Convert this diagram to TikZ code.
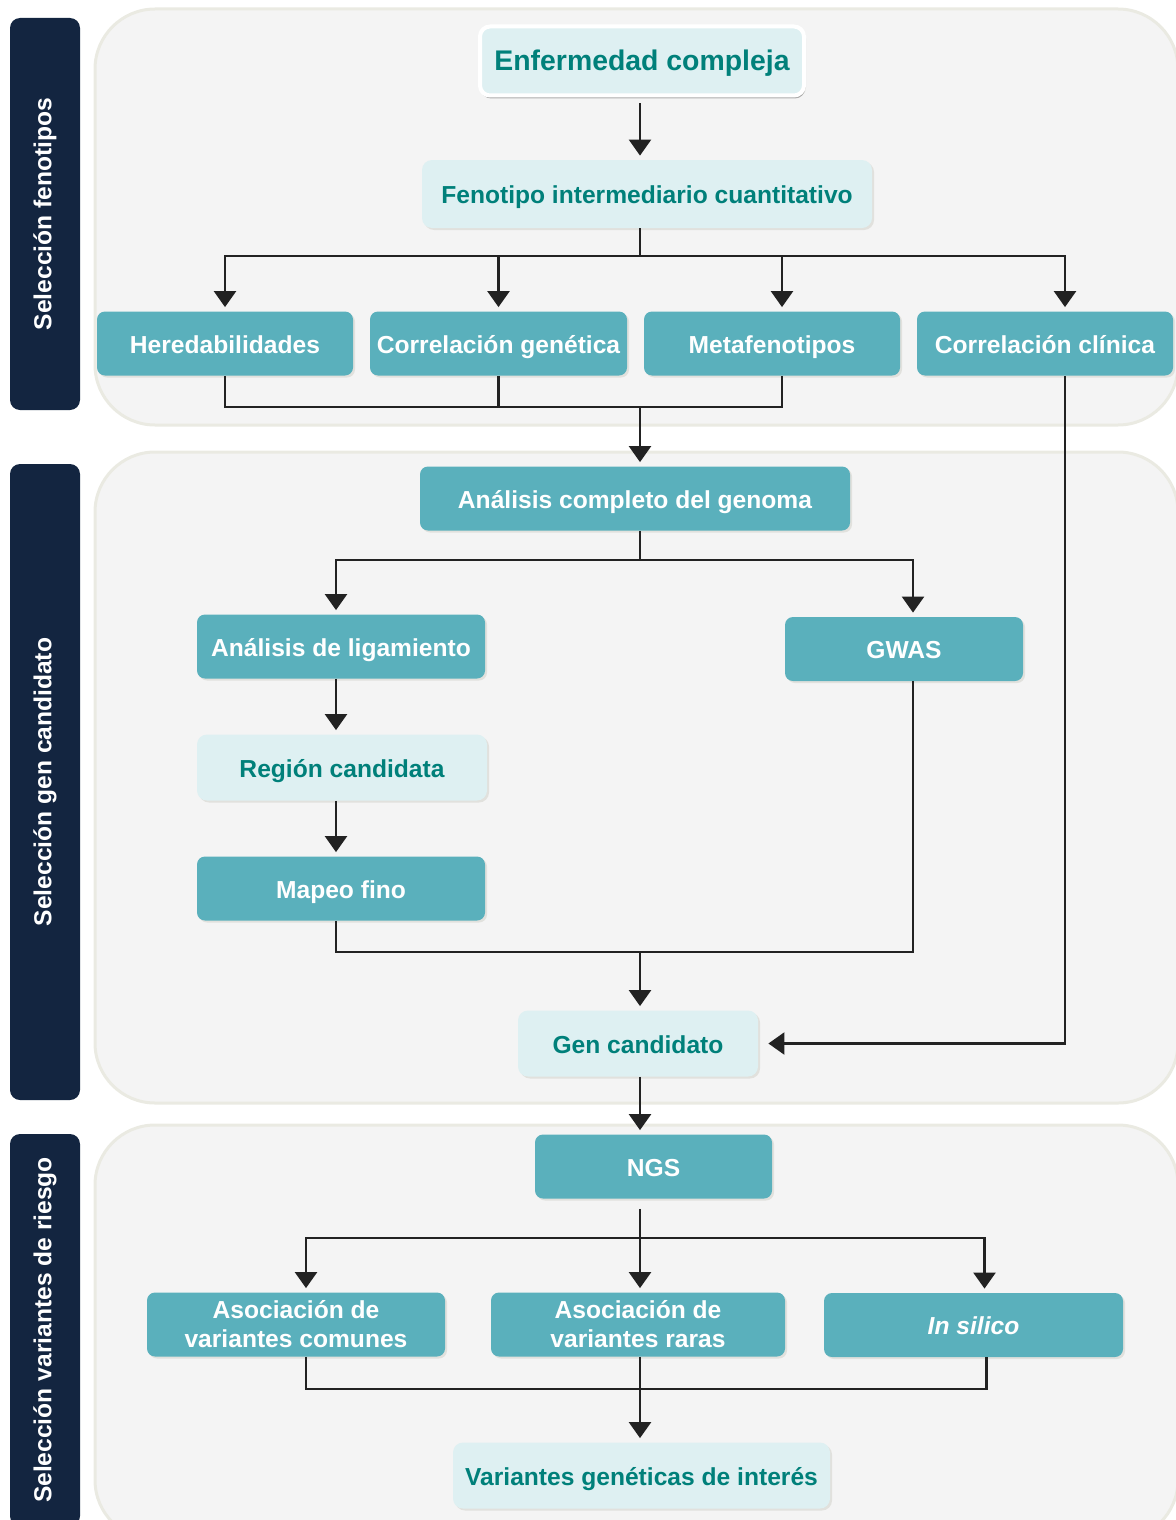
\documentclass[tikz,border=0pt]{standalone}
\usepackage{fontspec}
\setmainfont{Liberation Sans}
\usepackage{tikz}
\usetikzlibrary{positioning,arrows.meta,shadows}

\definecolor{navy}{RGB}{19,37,64}
\definecolor{boxteal}{RGB}{90,176,188}
\definecolor{boxlight}{RGB}{222,240,242}
\definecolor{textteal}{RGB}{0,128,122}
\definecolor{panelgray}{RGB}{244,244,244}
\definecolor{panelline}{RGB}{234,234,226}
\definecolor{arrowgray}{RGB}{34,34,34}

\begin{document}
\begin{tikzpicture}[x=0.5pt, y=-0.5pt,
        panel/.style={fill=panelgray, draw=panelline, line width=1.5pt, rounded corners=30pt},
        sidebar/.style={fill=navy, rounded corners=5pt, text=white, rotate=90, minimum height=35pt, inner sep=0pt,
            font=\bfseries\fontsize{12.3}{14}\selectfont},
        tealnode/.style={fill=boxteal, rounded corners=4pt, text=white, align=center, inner sep=1pt, minimum height=32pt,
            text height=11.5pt, text depth=2pt,
            font=\bfseries\fontsize{12.3}{14.5}\selectfont,
            drop shadow={shadow xshift=1pt, shadow yshift=-1pt, fill=panelline!80!gray, opacity=0.6}},
        lightnode/.style={fill=boxlight, rounded corners=5pt, text=textteal, align=center, inner sep=1pt, minimum height=33pt,
            text height=11.5pt, text depth=2pt,
            font=\bfseries\fontsize{12.3}{14.5}\selectfont,
            drop shadow={shadow xshift=1pt, shadow yshift=-1pt, fill=panelline!80!gray, opacity=0.6}},
        link/.style={draw=arrowgray, line width=1.2pt},
        arr/.style={link, -{Triangle[width=11pt,length=8pt]}, shorten >=2pt}
    ]
        \useasboundingbox (0,0) rectangle (1176,1520);

        % Background panels
        \draw[panel] (95,9) rectangle (1178,425);
        \draw[panel] (95,452) rectangle (1178,1103);
        \draw[panel] (95,1125) rectangle (1178,1540);

        % Side labels
        \node[sidebar, minimum width=196pt] (bar1) at (45,214) {Selección fenotipos};
        \node[sidebar, minimum width=318pt] (bar2) at (45,782) {Selección gen candidato};
        \node[sidebar, minimum width=196pt] (bar3) at (45,1330) {Selección variantes de riesgo};

        % Phenotypes
        \node[lightnode, draw=white, line width=2pt, minimum width=162pt, minimum height=34.5pt,
            text height=12pt, text depth=2pt, font=\bfseries\fontsize{14.2}{16}\selectfont,
            drop shadow={shadow xshift=0.5pt, shadow yshift=-1.5pt, fill=gray, opacity=0.6}] (enf) at (642,61) {Enfermedad compleja};
        \node[lightnode, minimum width=225pt, minimum height=34pt] (feno) at (647,194) {Fenotipo intermediario cuantitativo};
        \node[tealnode, minimum width=128pt] (hered) at (225,343.5) {Heredabilidades};
        \node[tealnode, minimum width=128.5pt] (corgen) at (498.5,343.5) {Correlación genética};
        \node[tealnode, minimum width=128pt] (meta) at (772,343.5) {Metafenotipos};
        \node[tealnode, minimum width=128pt] (corclin) at (1045,343.5) {Correlación clínica};

        % Candidate gene
        \node[tealnode, minimum width=215pt] (acg) at (635,498.5) {Análisis completo del genoma};
        \node[tealnode, minimum width=144pt] (lig) at (341,646.5) {Análisis de ligamiento};
        \node[tealnode, minimum width=119pt] (gwas) at (904,649) {GWAS};
        \node[lightnode, minimum width=145pt] (region) at (342,767.5) {Región candidata};
        \node[tealnode, minimum width=144pt] (mapeo) at (341,888.5) {Mapeo fino};
        \node[lightnode, minimum width=120pt] (gen) at (638,1043.5) {Gen candidato};

        % Risk variants
        \node[tealnode, minimum width=118.5pt] (ngs) at (653.5,1166.5) {NGS};
        \node[tealnode, minimum width=149pt, text height=24.5pt] (comunes) at (296,1324.5) {Asociación de\\variantes comunes};
        \node[tealnode, minimum width=147pt, text height=24.5pt] (raras) at (638,1324.5) {Asociación de\\variantes raras};
        \node[tealnode, minimum width=149.5pt] (silico) at (973.5,1325) {\textit{In silico}};
        \node[lightnode, minimum width=188.5pt] (variantes) at (641.5,1475.5) {Variantes genéticas de interés};

        % Connections, top panel
        \coordinate (s1) at (640,256);
        \coordinate (m1) at (640,407);
        \draw[arr, shorten <=3pt] (enf.south -| s1) -- (feno.north -| s1);
        \draw[link] (feno.south -| s1) -- (s1);
        \draw[arr] (s1) -| (hered.north);
        \draw[arr] (s1) -| (corgen.north);
        \draw[arr] (s1) -| ([xshift=5pt]meta.north);
        \draw[arr] (s1) -| ([xshift=10pt]corclin.north);
        \draw[link] (hered.south) |- (m1);
        \draw[link] ([xshift=5pt]meta.south) |- (m1);
        \draw[link] (corgen.south) -- (corgen.south |- m1);
        \draw[arr] (m1) -- (m1 |- acg.north);
        \draw[arr, shorten >=5pt] ([xshift=10pt]corclin.south) |- (gen.east);

        % Connections, middle panel
        \coordinate (s2) at (640,560);
        \coordinate (m2) at (640,952);
        \draw[link] (acg.south -| s2) -- (s2);
        \draw[arr] (s2) -| ([xshift=-2.5pt]lig.north);
        \draw[arr] (s2) -| ([xshift=4.5pt]gwas.north);
        \draw[arr] ([xshift=-2.5pt]lig.south) -- ([xshift=-3pt]region.north);
        \draw[arr] ([xshift=-3pt]region.south) -- ([xshift=-2.5pt]mapeo.north);
        \draw[link] ([xshift=-2.5pt]mapeo.south) |- (m2);
        \draw[link] ([xshift=4.5pt]gwas.south) |- (m2);
        \draw[arr] (m2) -- (m2 |- gen.north);
        \draw[arr] (gen.south -| m2) -- (ngs.north -| m2);

        % Connections, bottom panel
        \coordinate (s3) at (640,1238);
        \coordinate (m3) at (640,1389);
        \draw[link, shorten <=5pt] (ngs.south -| s3) -- (s3);
        \draw[arr] (s3) -| ([xshift=5pt]comunes.north);
        \draw[arr] (s3) -- (s3 |- raras.north);
        \draw[arr] (s3) -| ([xshift=5.5pt]silico.north);
        \draw[link] ([xshift=5pt]comunes.south) |- (m3);
        \draw[link] ([xshift=6.5pt]silico.south) |- (m3);
        \draw[arr] (raras.south -| m3) -- (variantes.north -| m3);
    \end{tikzpicture}
\end{document}
